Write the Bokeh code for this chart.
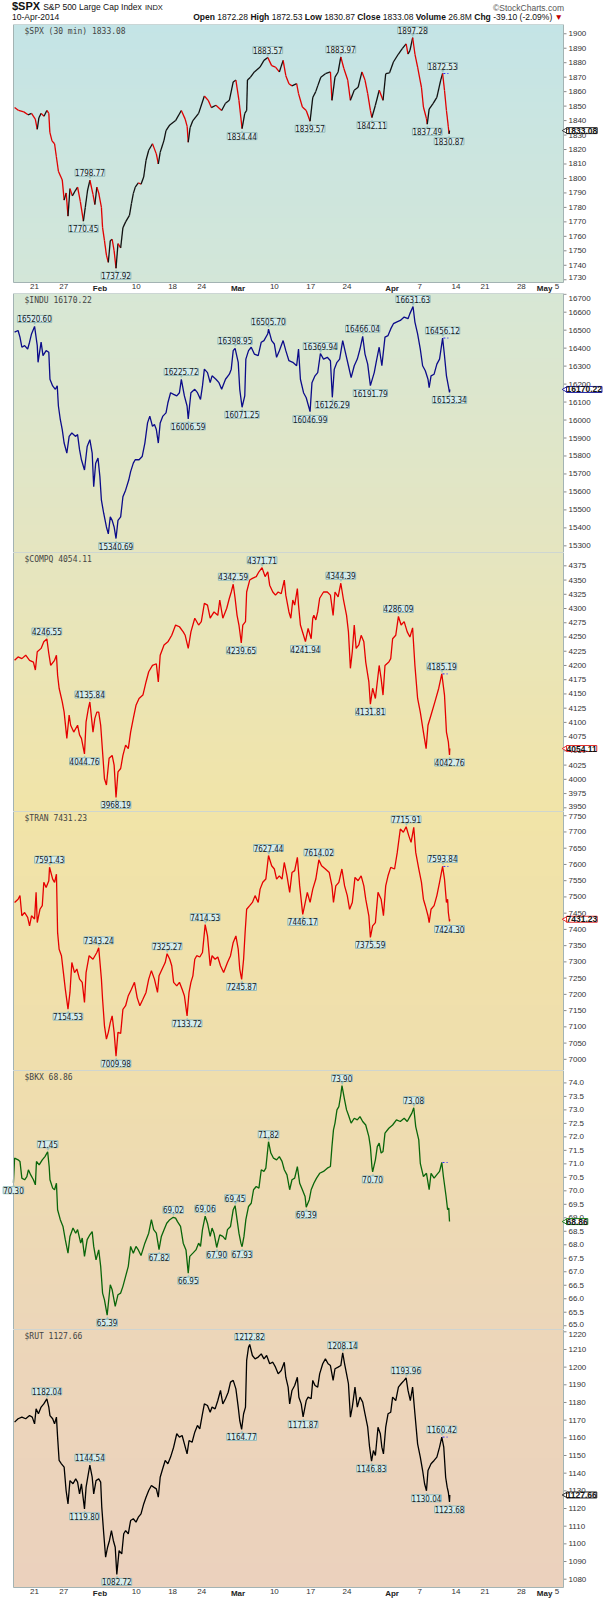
import numpy as np
from bokeh.plotting import figure
from bokeh.models import Range1d, ColumnDataSource, LabelSet, Label, Div
from bokeh.layouts import column
from bokeh.embed import file_html
from bokeh.resources import INLINE
from bokeh.core.properties import value

# ---------------- data (x = trading-day index, 0 = Jan 21 2014) ----------------
spx_x = [-2.75,-2.2,-1.48,-0.9,-0.42,0.1,0.37,0.6,0.9,1.3,1.69,1.96,2.1,2.4,2.75,3.0,3.28,3.81,4.07,4.35,
         4.6,4.87,5.2,5.66,5.92,6.3,6.72,6.98,7.3,7.62,8.04,8.3,8.57,8.83,9.2,9.36,9.62,9.89,10.15,10.42,
         10.68,10.95,11.21,11.48,11.85,12.16,12.53,13.06,13.33,13.59,13.86,14.28,14.65,15.02,15.34,15.71,16.23,16.76,17.03,17.29,
         17.82,18.09,18.61,19.41,20.2,20.73,21.0,21.15,21.4,21.79,22.58,23.37,23.9,24.33,24.96,25.75,26.28,26.81,27.34,27.71,
         28.13,28.56,28.93,29.19,29.3,29.72,30.25,31.04,31.57,32.1,32.63,33.16,33.69,34.21,34.58,35.01,35.43,36.07,36.33,36.86,
         37.39,37.92,38.29,38.7,38.97,39.4,40.03,40.72,40.93,41.35,41.78,42.15,42.57,43.1,43.47,44.0,44.53,45.06,45.48,45.85,
         46.22,46.43,46.91,47.44,47.96,48.33,48.86,49.39,50.08,50.61,51.14,51.4,51.67,52.04,52.35,52.72,53.25,53.52,53.94,54.05,
         54.31,54.84,55.37,55.9,56.16,56.42,56.69,56.95,57.05,57.11]
spx_y = [1849,1847,1846,1844,1845,1841,1834,1842,1845,1843,1847,1845,1832,1826,1824,1815,1805,1799,1785,1790,
         1774,1793,1788,1792,1794,1784,1770.45,1780,1792,1798.77,1789,1782,1794,1790,1780,1766,1757,1747,1742,1757,
         1758,1750,1737.92,1755,1752,1766,1770,1774.5,1782.6,1789.5,1794,1797,1796,1801,1812.6,1819.5,1824,1817,1810,1818,
         1826.5,1833,1837,1840,1847,1841,1836,1825,1835,1840,1845,1857,1854,1849,1850.6,1847,1852,1854,1866.7,1868,
         1854,1834.44,1845,1847,1868,1870,1873.6,1877,1881.6,1883.57,1878,1877,1873.6,1881.6,1871,1865.5,1864,1865.5,1858.6,1849.4,
         1847,1839.57,1856,1860,1864,1870,1872.4,1873.6,1854,1870,1873.6,1883.97,1876,1868,1854,1861,1863,1873.6,1868,1858.6,
         1847,1842.11,1850.6,1861,1854,1872.4,1873,1880.5,1886,1889.7,1893,1886,1888.5,1897.28,1886,1877,1863,1849.4,1841.4,1837.49,
         1848,1851.7,1856,1868,1872.53,1861,1847,1835.6,1830.87,1833.08]
spx_piv_x = [6.72,7.62,11.21,28.56,32.1,37.92,42.15,46.43,52.04,54.05,56.16,57.05]
spx_piv_y = [1770.45,1798.77,1737.92,1834.44,1883.57,1839.57,1883.97,1842.11,1897.28,1837.49,1872.53,1830.87]
spx_piv_side = ["l","h","l","l","h","l","h","l","h","l","h","l"]

indu_x = [-2.75,-2.27,-2.01,-1.75,-1.37,-0.95,-0.69,-0.42,0,0.37,0.48,0.90,1.16,1.59,1.96,2.12,2.49,2.86,3.12,3.28,
          3.54,3.81,4.07,4.44,4.76,5.13,5.66,5.92,6.19,6.45,6.87,7.24,7.61,7.93,8.14,8.41,8.73,8.99,9.20,9.52,
          9.89,10.15,10.42,10.68,10.95,11.21,11.48,11.85,12.16,12.53,12.96,13.22,13.59,13.85,14.38,14.81,15.18,15.55,15.86,16.23,
          16.50,16.76,17.03,17.29,17.66,18.09,18.35,18.72,19.14,19.57,19.94,20.20,20.62,20.99,21.15,21.52,22.05,22.42,22.84,23.11,
          23.37,23.80,24.17,24.43,24.96,25.38,25.75,26.28,26.81,27.07,27.34,27.60,28.03,28.24,28.56,28.93,29.08,29.45,29.82,30.25,
          30.78,31.20,31.57,32.10,32.20,32.63,33.00,33.31,33.69,34.21,34.58,35.01,35.54,36.07,36.33,36.59,37.02,37.39,37.92,38.18,
          38.60,38.97,39.34,39.77,40.29,40.72,40.98,41.25,41.62,41.99,42.41,42.78,43.20,43.57,44.00,44.42,44.79,45.16,45.48,45.85,
          46.22,46.75,47.06,47.43,47.80,48.23,48.65,49.02,49.39,49.81,50.34,50.87,51.40,51.66,52.09,52.35,52.72,53.09,53.41,53.78,
          54.15,54.31,54.57,54.99,55.37,55.74,56.16,56.42,56.69,56.95,57.11,57.15]
indu_y = [16489,16498,16461,16405,16414,16395,16433,16479,16520.60,16414,16321,16433,16358,16386,16377,16227,16190,16171,16190,16078,
          16003,15947,15872,15816,15909,15928,15909,15919,15835,15779,15722,15853,15891,15816,15629,15760,15788,15685,15554,15480,
          15405,15367,15461,15442,15405,15340.69,15442,15461,15573,15610,15666,15713,15760,15779,15779,15797,15872,15984,16022,15965,
          15975,15947,15872,15984,16022,16040,16096,16152,16143,16134,16152,16225.72,16134,16078,16006.59,16152,16171,16152,16115,16190,
          16283,16264,16208,16246,16227,16208,16171,16227,16255,16283,16386,16398.95,16321,16171,16071.25,16134,16339,16386,16405,16367,
          16358,16433,16442,16480,16505.70,16442,16423,16349,16386,16442,16386,16330,16321,16302,16395,16227,16152,16124,16046.99,16208,
          16246,16264,16369.94,16339,16349,16330,16126.29,16283,16321,16339,16442,16377,16302,16236,16302,16339,16395,16466.04,16367,16311,
          16191.79,16264,16330,16405,16302,16461,16470,16507,16536,16545,16554,16573,16564,16592,16631.63,16545,16479,16395,16302,16274,
          16227,16180,16246,16255,16311,16339,16456.12,16358,16246,16190,16153.34,16170.22]
indu_piv_x = [0,11.21,20.20,21.15,27.60,28.56,32.20,37.92,39.34,40.98,45.16,46.22,52.09,56.16,57.11]
indu_piv_y = [16520.60,15340.69,16225.72,16006.59,16398.95,16071.25,16505.70,16046.99,16369.94,16126.29,16466.04,16191.79,16631.63,16456.12,16153.34]
indu_piv_side = ["h","l","h","l","h","l","h","l","h","l","h","l","h","h","l"]

compq_x = [-2.75,-2.27,-1.75,-1.22,-0.69,-0.16,0.11,0.37,0.90,1.27,1.69,1.96,2.22,2.75,3.01,3.17,3.38,3.81,4.07,4.44,
           4.76,4.97,5.39,5.92,6.19,6.45,6.87,7.09,7.40,7.61,8.04,8.30,8.57,8.83,9.10,9.36,9.62,9.89,10.26,10.68,
           10.95,11.21,11.48,11.85,12.16,12.53,12.90,13.22,13.59,13.96,14.38,14.91,15.34,15.71,16.23,16.76,17.03,17.29,17.82,18.35,
           18.88,19.41,19.94,20.46,20.73,21.15,21.52,22.05,22.58,22.95,23.37,23.80,24.17,24.70,25.22,25.49,25.91,26.44,26.81,27.07,
           27.34,27.60,27.87,28.13,28.45,28.66,29.03,29.19,29.61,29.98,30.51,30.88,31.31,31.73,32.10,32.36,32.79,33.16,33.53,33.95,
           34.37,34.58,35.01,35.27,35.54,35.80,36.17,36.33,36.59,37.02,37.28,37.65,38.07,38.29,38.44,38.71,38.97,39.24,39.77,40.29,
           40.72,41.09,41.35,41.78,42.15,42.52,42.94,43.20,43.47,43.73,44.00,44.26,44.63,44.95,45.32,45.58,46.01,46.22,46.53,46.91,
           47.43,47.70,47.96,48.23,48.76,49.02,49.28,49.71,50.08,50.45,50.87,51.29,51.66,52.03,52.35,52.72,53.09,53.52,53.89,54.15,
           54.57,55.10,55.63,56.05,56.42,56.69,56.95,57.11,57.15]
compq_y = [4209,4215,4212,4218,4209,4206,4192,4224,4230,4241.5,4246.55,4221,4200,4209,4218,4183,4160,4136,4118,4072,
           4113,4095,4083,4095,4078,4072,4044.76,4101,4124,4135.84,4083,4107,4118,4118,4095,4048,4001,3990,4037,4042,
           4025,3968.19,4013,4019,4042,4060,4054,4083,4107,4130,4142,4148,4171,4189,4200,4203,4171,4218,4236,4241.5,
           4253,4271,4268,4259,4253,4230,4259,4283,4271,4277,4309,4306,4283,4294,4288,4315,4283,4300,4318,4329,
           4342.59,4318,4288,4271,4239.65,4271,4277,4329,4350,4353,4356,4364.5,4371.71,4356,4364.5,4341,4329,4323.5,4329,4326,
           4350,4323.5,4294,4283,4315,4306,4335,4306,4271,4253,4241.94,4265,4247,4283,4288,4280,4294,4318,4329,4329,
           4323.5,4288,4329,4320.5,4344.39,4315,4288,4259,4195,4224,4271,4230,4236,4253,4241.5,4206,4171,4131.81,4160,4142,
           4200,4177,4148,4200,4206,4212,4247,4253,4286.09,4271,4277,4259,4250,4266,4200,4142,4118,4083,4054,4095,
           4113,4136,4160,4185.19,4148,4083,4066,4042.76,4054.11]
compq_piv_x = [1.69,6.87,7.61,11.21,27.34,28.45,31.31,37.28,42.15,46.22,50.08,56.05,57.11]
compq_piv_y = [4246.55,4044.76,4135.84,3968.19,4342.59,4239.65,4371.71,4241.94,4344.39,4131.81,4286.09,4185.19,4042.76]
compq_piv_side = ["h","l","h","l","h","l","h","l","h","l","h","h","l"]

tran_x = [-2.75,-2.27,-2.01,-1.75,-1.37,-0.95,-0.69,-0.42,0,0.21,0.37,0.74,1.06,1.27,1.59,1.96,2.06,2.49,2.75,3.01,
          3.17,3.38,3.70,3.97,4.23,4.60,4.87,5.13,5.50,5.82,6.19,6.56,6.87,7.09,7.51,8.04,8.57,8.83,9.20,9.36,
          9.62,9.89,10.15,10.42,10.68,10.95,11.21,11.48,11.85,12.16,12.53,12.90,13.33,13.75,14.12,14.49,14.91,15.34,15.71,16.08,
          16.50,16.92,17.13,17.56,17.98,18.24,18.61,18.88,19.14,19.57,19.94,20.31,20.62,20.99,21.26,21.52,21.79,22.05,22.32,22.74,
          23.11,23.48,23.80,24.17,24.43,24.85,25.22,25.59,26.02,26.55,26.97,27.34,27.71,28.03,28.24,28.50,28.77,28.98,29.19,29.61,
          29.98,30.35,30.78,31.04,31.41,31.83,32.20,32.63,33.00,33.31,33.69,34.06,34.37,34.74,35.11,35.43,35.80,36.17,36.49,36.91,
          37.23,37.54,37.92,38.29,38.71,39.13,39.50,40.03,40.56,40.93,41.14,41.46,41.88,42.30,42.67,43.04,43.36,43.73,44.10,44.53,
          44.95,45.32,45.58,46.01,46.22,46.53,46.91,47.27,47.70,48.02,48.33,48.65,49.02,49.55,49.92,50.34,50.76,51.14,51.51,51.82,
          52.19,52.46,52.88,53.25,53.52,53.78,54.15,54.31,54.57,54.99,55.37,55.74,56.16,56.42,56.69,56.85,56.95,57.11,57.15]
tran_y = [7483,7493,7504,7442,7452,7437,7411,7442,7432,7514,7421,7462,7473,7545,7529,7550,7591.43,7555,7545,7570,
          7391,7339,7319,7267,7216,7154.53,7206,7298,7267,7278,7247,7237,7175,7267,7319,7308,7329,7343.24,7247,7185,
          7103,7062,7083,7113,7134,7083,7009.98,7083,7080,7154,7165,7196,7216,7237,7190,7165,7185,7206,7247,7273,
          7247,7206,7257,7278,7298,7325.27,7308,7288,7237,7226,7237,7216,7196,7133.72,7206,7237,7257,7308,7319,7315,
          7329,7414.53,7380,7288,7319,7308,7315,7288,7267,7298,7319,7360,7380,7339,7278,7245.87,7308,7391,7462,7473,
          7483,7504,7483,7524,7545,7555,7627.44,7596,7586,7555,7565,7555,7606,7565,7514,7575,7581,7622,7534,7446.17,
          7480,7514,7483,7524,7555,7614.02,7596,7586,7575,7534,7483,7534,7545,7586,7534,7504,7462,7483,7560,7550,
          7565,7534,7493,7442,7375.59,7411,7421,7514,7493,7442,7534,7565,7591,7586,7637,7709,7699,7715.91,7688,7668,
          7714,7637,7586,7545,7493,7473,7442,7421,7462,7473,7504,7545,7593.84,7555,7483,7493,7452,7424.30,7431.23]
tran_piv_x = [2.06,4.60,8.83,11.21,18.24,20.99,23.48,28.50,32.20,36.91,39.13,46.22,51.14,56.16,57.11]
tran_piv_y = [7591.43,7154.53,7343.24,7009.98,7325.27,7133.72,7414.53,7245.87,7627.44,7446.17,7614.02,7375.59,7715.91,7593.84,7424.30]
tran_piv_side = ["h","l","h","l","h","l","h","l","h","l","h","l","h","h","l"]

bkx_x = [-2.91,-2.75,-2.27,-2.01,-1.75,-1.37,-1.06,-0.85,-0.53,-0.16,0.11,0.26,0.63,1.06,1.43,1.80,2.01,2.12,2.49,2.75,
         3.01,3.17,3.54,3.91,4.23,4.60,4.87,5.29,5.66,5.92,6.35,6.56,6.87,7.24,7.61,7.93,8.14,8.46,8.83,9.10,
         9.36,9.62,9.99,10.42,10.68,11.10,11.48,11.85,12.16,12.53,12.90,13.22,13.59,13.96,14.28,14.65,15.18,15.71,16.08,16.39,
         16.76,17.13,17.45,17.82,18.19,18.61,19.09,19.41,19.67,20.09,20.46,20.84,21.15,21.36,21.79,22.21,22.58,22.84,23.11,23.48,
         23.80,24.17,24.43,24.70,25.07,25.49,25.91,26.28,26.55,26.97,27.34,27.60,27.87,28.13,28.40,28.56,28.82,29.08,29.45,29.82,
         30.14,30.51,30.88,31.20,31.57,31.83,32.20,32.52,32.89,33.31,33.69,34.06,34.37,34.74,35.11,35.43,35.80,36.17,36.49,36.86,
         37.23,37.39,37.81,38.07,38.44,38.81,39.24,39.77,40.29,40.72,40.93,41.14,41.35,41.62,41.88,42.15,42.31,42.67,42.94,43.20,
         43.57,44.00,44.42,44.79,45.16,45.58,46.01,46.22,46.43,46.53,46.91,47.17,47.43,47.70,47.96,48.23,48.76,49.28,49.81,50.34,
         50.87,51.29,51.66,51.93,52.19,52.46,52.88,53.09,53.52,53.94,54.31,54.57,54.99,55.37,55.74,56.05,56.27,56.64,56.85,57.01,
         57.11]
bkx_y = [70.30,71.21,71.15,71.09,70.47,70.41,70.53,70.78,70.59,70.41,70.22,71.09,70.96,71.15,71.27,71.45,70.90,70.41,70.10,70.04,
         70.28,69.30,68.93,68.68,68.19,67.69,68.31,68.62,68.43,68.56,68.06,68.25,67.57,68.19,68.37,68.49,67.94,67.44,67.81,67.20,
         66.21,65.96,65.39,66.52,66.33,65.72,66.15,66.21,66.46,66.83,67.20,67.94,67.69,67.94,67.81,67.60,68.06,68.43,68.93,68.56,
         68.43,67.82,68.31,68.56,68.80,68.93,69.02,68.99,68.86,68.68,68.06,67.81,66.95,67.57,67.69,67.81,68.06,67.94,68.56,69.06,
         68.80,68.31,68.62,68.43,67.90,68.37,68.31,68.19,68.56,68.68,69.30,69.45,68.93,68.43,68.06,67.93,68.31,68.93,69.42,69.54,
         70.04,70.16,70.10,70.78,70.72,70.84,71.82,71.40,71.21,71.15,71.27,71.09,70.78,70.59,70.04,70.41,70.47,70.90,70.28,70.04,
         69.79,69.39,69.67,70.04,70.28,70.47,70.65,70.72,70.84,70.90,71.64,72.26,72.51,73.00,73.12,73.56,73.90,73.37,73.00,72.81,
         72.51,72.69,72.63,72.75,72.57,72.44,72.01,71.64,70.90,70.70,71.15,71.64,71.77,71.40,71.46,72.14,72.32,72.44,72.63,72.57,
         72.69,72.57,72.75,72.88,73.08,72.38,71.89,71.02,70.53,70.65,70.04,70.65,70.47,70.60,70.72,71.05,70.53,69.79,69.30,69.36,
         68.86]
bkx_piv_x = [-2.91,1.80,9.99,17.13,19.09,21.15,23.48,25.07,27.60,28.56,32.20,37.39,42.31,46.53,52.19]
bkx_piv_y = [70.30,71.45,65.39,67.82,69.02,66.95,69.06,67.90,69.45,67.93,71.82,69.39,73.90,70.70,73.08]
bkx_piv_side = ["l","h","l","l","h","l","h","l","h","l","h","l","h","l","h"]
bkx_last_high = (56.05, 71.05)

rut_x = [-2.75,-2.27,-1.75,-1.22,-0.69,-0.32,0,0.21,0.53,0.90,1.27,1.69,1.96,2.12,2.49,2.75,3.01,3.17,3.38,3.70,
         4.07,4.34,4.60,4.87,5.29,5.66,5.92,6.19,6.45,6.87,7.09,7.40,7.61,7.93,8.14,8.46,8.83,9.10,9.25,9.52,
         9.78,10.05,10.31,10.58,10.84,11.10,11.32,11.63,12.00,12.27,12.53,12.90,13.22,13.59,13.96,14.28,14.65,15.02,15.34,15.71,
         16.08,16.39,16.76,17.03,17.29,17.56,17.98,18.35,18.72,19.14,19.57,19.94,20.31,20.62,20.99,21.26,21.68,22.05,22.42,22.74,
         23.11,23.37,23.80,24.17,24.43,24.85,25.22,25.59,25.91,26.28,26.65,26.97,27.34,27.71,28.03,28.24,28.50,28.77,29.03,29.19,
         29.45,29.61,29.98,30.35,30.78,31.20,31.57,31.94,32.36,32.79,33.16,33.53,33.95,34.37,34.58,34.90,35.11,35.43,35.80,36.17,
         36.38,36.70,36.96,37.39,37.65,38.07,38.29,38.60,38.97,39.24,39.66,40.03,40.40,40.72,41.09,41.35,41.78,42.15,42.41,42.67,
         42.94,43.20,43.47,43.73,44.10,44.42,44.79,45.16,45.48,45.85,46.11,46.38,46.64,46.91,47.27,47.59,47.80,48.02,48.33,48.65,
         49.02,49.28,49.71,50.08,50.45,50.87,51.14,51.40,51.72,52.03,52.35,52.72,53.09,53.41,53.68,53.94,54.15,54.57,54.99,55.37,
         55.74,56.05,56.32,56.58,56.79,56.95,57.11,57.15]
rut_y = [1168.9,1170.8,1171.7,1170.8,1172.6,1171.7,1167.9,1176.4,1173.6,1177.4,1179.2,1182.04,1177.4,1172.6,1170.8,1167.9,1171.7,1160.4,1147.2,1145.3,
         1143.4,1130.2,1122.6,1135.8,1134.0,1136.8,1134.9,1128.3,1134.0,1119.80,1132.1,1139.6,1144.54,1137.7,1128.3,1135.8,1136.8,1134.9,1120.8,1105.7,
         1092.5,1098.1,1101.9,1107.5,1101.9,1098.1,1082.72,1096.2,1094.3,1105.7,1107.5,1105.7,1113.2,1114.2,1112.3,1115.1,1117.0,1122.6,1126.4,1130.2,
         1133.0,1132.1,1131.1,1126.4,1137.7,1141.5,1147.2,1145.3,1149.1,1154.7,1162.3,1160.4,1161.3,1156.6,1150.9,1158.5,1157.5,1163.2,1167.0,1165.1,
         1173.6,1179.2,1178.3,1174.5,1177.4,1176.4,1181.1,1186.8,1179.2,1182.1,1185.8,1191.5,1192.5,1187.7,1177.4,1169.8,1164.77,1173.6,1177.4,1203.8,
         1211.3,1212.82,1206.6,1204.7,1205.7,1207.5,1204.7,1206.6,1201.9,1202.8,1200.0,1196.2,1198.1,1202.8,1194.3,1188.7,1179.2,1186.8,1189.6,1194.3,
         1183.0,1179.2,1171.87,1181.1,1183.0,1182.1,1192.5,1189.6,1188.7,1196.2,1201.9,1204.7,1201.9,1200.9,1192.5,1199.1,1200.0,1200.9,1208.14,1201.9,
         1196.2,1190.6,1171.7,1177.4,1188.7,1177.4,1183.0,1180.2,1173.6,1166.0,1154.7,1146.83,1152.8,1150.0,1166.0,1162.3,1154.7,1150.9,1166.0,1173.6,
         1174.5,1183.0,1181.1,1188.7,1190.6,1192.5,1193.96,1186.8,1181.1,1188.7,1173.6,1156.6,1149.1,1141.5,1134.0,1130.04,1141.5,1145.3,1147.2,1149.1,
         1154.7,1160.42,1154.7,1137.7,1132.1,1129.2,1123.68,1127.66]
rut_piv_x = [1.69,6.87,7.61,11.32,28.50,29.61,36.96,42.41,46.38,51.14,53.94,56.05,57.11]
rut_piv_y = [1182.04,1119.80,1144.54,1082.72,1164.77,1212.82,1171.87,1208.14,1146.83,1193.96,1130.04,1160.42,1123.68]
rut_piv_side = ["h","l","h","l","l","h","l","h","l","h","l","h","l"]

xtick_day_pos = [0, 4, 14, 19, 23, 33, 38, 43, 53, 58, 62, 67, 71.9]
xtick_day_lab = ["21", "27", "10", "18", "24", "10", "17", "24", "7", "14", "21", "28", "5"]
xtick_mon_pos = [9, 28, 49.2, 70.2]
xtick_mon_lab = ["Feb", "Mar", "Apr", "May"]

hdr_symbol = "$SPX"
hdr_name = "S&amp;P 500 Large Cap Index"
hdr_exch = "INDX"
hdr_date = "10-Apr-2014"
hdr_quote = [("Open", "1872.28"), ("High", "1872.53"), ("Low", "1830.87"), ("Close", "1833.08"),
             ("Volume", "26.8M"), ("Chg", "-39.10 (-2.09%)")]

# ---------------- styling ----------------
X0, X1 = -2.9, 72.8          # plot-area x extent (trading days)
INNER_W = 550                # plot-area width in px
LEFT_PAD, RIGHT_PAD = 13, 40
FIG_W = LEFT_PAD + INNER_W + RIGHT_PAD
NARROW = "'Liberation Sans Narrow', 'DejaVu Sans Condensed', 'Arial Narrow', sans-serif"
GRAD_Y = [24, 282, 293, 552, 811, 1070, 1329, 1587]
GRAD_C = ["#c4e4e6", "#d3e6d8", "#d7e7d5", "#e5e5c0", "#f1e4a8", "#efdead", "#ecd6b9", "#ebd1bd"]


def gradient(top, h):
    n = 64
    rgb = np.array([[int(c[i:i + 2], 16) for i in (1, 3, 5)] for c in GRAD_C], float)
    ys = top + h - (np.arange(n) + 0.5) / n * h
    img = np.empty((n, 1, 4), dtype=np.uint8)
    for k in range(3):
        img[:, 0, k] = np.interp(ys, GRAD_Y, rgb[:, k]).round()
    img[:, 0, 3] = 255
    return img.view(np.uint32).reshape(n, 1)


def panel(title, xs, ys, color, yr, interval, last, tag_color, pxs, pys, psides,
          top, fh, bottom_pad, xlabels=False, updown=False, decimals=0, dash=None):
    u = (X1 - X0) / INNER_W
    lo, hi = yr
    v = (hi - lo) / fh
    p = figure(frame_width=FIG_W, frame_height=fh + bottom_pad,
               x_range=Range1d(X0 - LEFT_PAD * u, X1 + RIGHT_PAD * u),
               y_range=Range1d(lo - bottom_pad * v, hi),
               x_axis_location=None, y_axis_location=None, output_backend="svg",
               toolbar_location=None, min_border=0, outline_line_color=None,
               background_fill_color="white", border_fill_color="white", margin=(0, 0, 0, 0))
    p.grid.visible = False
    p.image_rgba(image=[gradient(top, fh)], x=X0, y=lo, dw=X1 - X0, dh=hi - lo)

    # price axis on the right (ticks + labels)
    ticks = np.arange(np.ceil(lo / interval) * interval, hi, interval)
    p.segment(x0=[X1] * len(ticks), x1=[X1 + 3 * u] * len(ticks), y0=ticks, y1=ticks,
              line_color="#8a8a8a", line_width=1)
    ty = np.clip(ticks, lo + 5 * v, hi - 5 * v)
    p.text(x=[X1 + 5 * u] * len(ticks), y=ty, text=[f"{t:.{decimals}f}" for t in ticks],
           text_font=value("Liberation Sans"), text_font_size="8px", text_color="#333333",
           text_baseline="middle", text_align="left")

    xa = np.array(xs, float)
    ya = np.array(ys, float)
    if updown:
        cols = ["#111111" if b >= a else "#e00000" for a, b in zip(ya[:-1], ya[1:])]
        p.segment(x0=xa[:-1], y0=ya[:-1], x1=xa[1:], y1=ya[1:], line_color=cols, line_width=1.3)
    else:
        p.line(xa, ya, line_color=color, line_width=1.3)

    # blue dash at the latest swing high
    if dash is None:
        hx = [x for x, s in zip(pxs, psides) if s == "h"][-1]
        hy = [y for y, s in zip(pys, psides) if s == "h"][-1]
    else:
        hx, hy = dash
    p.segment(x0=[hx + 0.1], y0=[hy], x1=[hx + 0.8], y1=[hy], line_color="#3030ff",
              line_width=1, line_dash="2 2")

    # frame border
    p.quad(left=[X0], right=[X1], bottom=[lo], top=[hi], fill_color=None,
           line_color="#a3b3b3", line_width=1)

    for side, base, off, tri in (("h", "bottom", 4, "\u25bc"), ("l", "top", -4, "\u25b2")):
        sx = [x for x, s in zip(pxs, psides) if s == side]
        sy = [y for y, s in zip(pys, psides) if s == side]
        st = [f"{val:.2f}" for val in sy]
        src = ColumnDataSource(dict(x=sx, y=sy, t=st, m=[tri] * len(sx)))
        p.add_layout(LabelSet(x="x", y="y", text="m", source=src, text_align="center",
                              text_baseline=base, y_offset=0, text_font_size="6px",
                              text_color="#9cc4c4"))
        p.add_layout(LabelSet(x="x", y="y", text="t", source=src, text_align="center",
                              text_baseline=base, y_offset=off, text_font=value(NARROW),
                              text_font_size="8px", text_color="#1a1a1a",
                              background_fill_color="#d6eded", border_line_color="#93baba"))

    # panel title
    p.add_layout(Label(x=X0, y=hi, x_offset=11, y_offset=-2, text=title, text_baseline="top",
                       text_font="DejaVu Sans Mono", text_font_size="8px", text_color="#444444"))

    # last value tag
    p.scatter(x=[X1 + 2.2 * u], y=[last], marker="triangle", angle=np.pi / 2, size=6,
              fill_color="white", line_color=tag_color)
    tag = ColumnDataSource(dict(x=[X1 + 3 * u], y=[last], t=[f"{last:.2f}"]))
    p.add_layout(LabelSet(x="x", y="y", text="t", source=tag, text_align="left",
                          text_baseline="middle", text_font=value("Liberation Sans"),
                          text_font_size="8.5px", text_font_style="bold", text_color="#111111",
                          background_fill_color="white", border_line_color=tag_color))

    if xlabels:
        yl = lo - 1.5 * v
        p.text(x=xtick_day_pos, y=[yl] * len(xtick_day_pos), text=xtick_day_lab,
               text_font=value("Liberation Sans"), text_font_size="8px", text_color="#333333",
               text_align="center", text_baseline="top")
        p.text(x=xtick_mon_pos, y=[yl] * len(xtick_mon_pos), text=xtick_mon_lab,
               text_font=value("Liberation Sans"), text_font_size="8px", text_font_style="bold",
               text_color="#222222", text_align="center", text_baseline="top")
    return p


quote_html = " ".join(f"<b>{k}</b> {v}" for k, v in hdr_quote)
header = Div(text=(
    f"<div style=\"position:relative;width:{FIG_W}px;height:24px;font-family:'Liberation Sans',Arial,sans-serif;"
    "color:#111;line-height:1;\">"
    "<div style=\"position:absolute;left:12px;top:1px;white-space:nowrap;font-size:11px;line-height:1;\">"
    f"<span style=\"font-weight:bold;\">{hdr_symbol}</span> "
    f"<span style=\"font-size:8.5px;\">{hdr_name}</span> <span style=\"font-size:7.5px;\">{hdr_exch}</span></div>"
    "<div style=\"position:absolute;right:39px;top:4px;font-size:8.5px;color:#555;white-space:nowrap;\">"
    "&copy;StockCharts.com</div>"
    f"<div style=\"position:absolute;left:12px;top:13px;font-size:8.5px;white-space:nowrap;\">{hdr_date}</div>"
    f"<div style=\"position:absolute;right:40px;top:13px;font-size:8.5px;white-space:nowrap;\">{quote_html} "
    "<span style=\"color:#c00000;\">&#9660;</span></div></div>"),
    width=FIG_W, height=24, margin=(0, 0, 0, 0), styles={"overflow": "visible"})

p1 = panel("$SPX (30 min) 1833.08", spx_x, spx_y, "#111111", (1728.1, 1906.4), 10, 1833.08, "#333333",
           spx_piv_x, spx_piv_y, spx_piv_side, 24, 258, 11, xlabels=True, updown=True)
p2 = panel("$INDU 16170.22", indu_x, indu_y, "#0c0c8a", (15263, 16704), 100, 16170.22, "#2020a0",
           indu_piv_x, indu_piv_y, indu_piv_side, 293, 259, 0)
p3 = panel("$COMPQ 4054.11", compq_x, compq_y, "#e60000", (3943.5, 4398.4), 25, 4054.11, "#e03030",
           compq_piv_x, compq_piv_y, compq_piv_side, 552, 259, 0)
p4 = panel("$TRAN 7431.23", tran_x, tran_y, "#e60000", (6965.6, 7763), 50, 7431.23, "#e03030",
           tran_piv_x, tran_piv_y, tran_piv_side, 811, 259, 0)
p5 = panel("$BKX 68.86", bkx_x, bkx_y, "#0a660a", (64.86, 74.46), 0.5, 68.86, "#1a7a1a",
           bkx_piv_x, bkx_piv_y, bkx_piv_side, 1070, 259, 0, decimals=1, dash=bkx_last_high)
p6 = panel("$RUT 1127.66", rut_x, rut_y, "#000000", (1075.3, 1221.3), 10, 1127.66, "#222222",
           rut_piv_x, rut_piv_y, rut_piv_side, 1329, 258, 12, xlabels=True)

layout = column(header, p1, p2, p3, p4, p5, p6, spacing=0)
open("out.html", "w").write(file_html(layout, INLINE))
